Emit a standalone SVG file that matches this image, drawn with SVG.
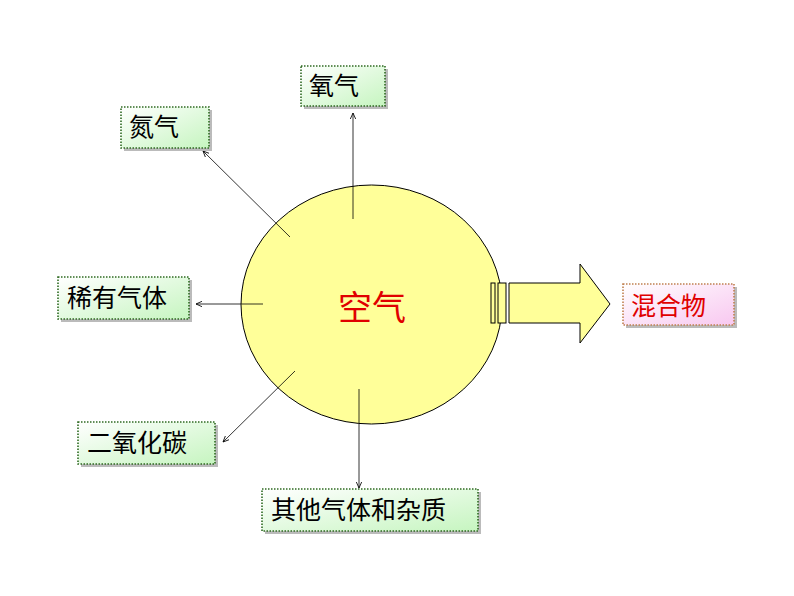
<svg xmlns="http://www.w3.org/2000/svg" width="794" height="596" viewBox="0 0 794 596">
<defs>
<linearGradient id="g" x1="0" y1="0" x2="1" y2="1">
<stop offset="0" stop-color="#FFFFFF"/>
<stop offset="1" stop-color="#C6F5C0"/>
</linearGradient>
<linearGradient id="p" x1="0" y1="0" x2="1" y2="1">
<stop offset="0" stop-color="#FFFFFF"/>
<stop offset="1" stop-color="#F8C8F0"/>
</linearGradient>
<marker id="a" viewBox="0 0 10 10" refX="9" refY="5" markerWidth="7" markerHeight="7" orient="auto" markerUnits="userSpaceOnUse">
<path d="M0,1 L9,5 L0,9" fill="none" stroke="#000" stroke-width="1.2"/>
</marker>
</defs>
<style>
.box{fill:url(#g);stroke:#2F6A22;stroke-width:1.6;stroke-dasharray:1.5 1.5}
.sh{fill:#BBBBBB}
.t{font-family:"Noto Sans CJK SC",sans-serif;font-size:25px;fill:#000}
.c{stroke:#000;stroke-width:0.8;fill:none;marker-end:url(#a)}
</style>
<g id="air">
<ellipse cx="371.5" cy="304.5" rx="130.5" ry="119.5" fill="#FFFF99" stroke="#000" stroke-width="1"/>
<text x="372" y="320" text-anchor="middle" font-family="Noto Sans CJK SC,sans-serif" font-size="34" fill="#E00000">空气</text>
</g>
<g id="connectors">
<line class="c" x1="353" y1="219" x2="353" y2="113"/>
<line class="c" x1="290" y1="237" x2="203" y2="151"/>
<line class="c" x1="263" y1="304" x2="196" y2="304"/>
<line class="c" x1="295" y1="371" x2="223" y2="442"/>
<line class="c" x1="359" y1="389" x2="359" y2="488"/>
</g>
<g id="bigarrow" stroke="#000" stroke-width="1" fill="#FFFF99">
<rect x="491" y="283" width="4" height="40"/>
<rect x="498" y="283" width="8" height="40"/>
<path d="M509,283 L580,283 L580,264 L610,304 L580,343 L580,323 L509,323 Z"/>
</g>
<g id="oxygen">
<rect class="sh" x="304" y="69" width="84" height="40"/>
<rect class="box" x="301" y="66" width="84" height="40"/>
<text class="t" x="309" y="95">氧气</text>
</g>
<g id="nitrogen">
<rect class="sh" x="124" y="110" width="88" height="41"/>
<rect class="box" x="121" y="107" width="88" height="41"/>
<text class="t" x="129" y="136">氮气</text>
</g>
<g id="rare">
<rect class="sh" x="61" y="280" width="131" height="42"/>
<rect class="box" x="58" y="277" width="131" height="42"/>
<text class="t" x="67" y="307">稀有气体</text>
</g>
<g id="co2">
<rect class="sh" x="81" y="425" width="137" height="42"/>
<rect class="box" x="78" y="422" width="137" height="42"/>
<text class="t" x="87" y="452">二氧化碳</text>
</g>
<g id="others">
<rect class="sh" x="265" y="492" width="216" height="42"/>
<rect class="box" x="262" y="489" width="216" height="42"/>
<text class="t" x="271" y="519">其他气体和杂质</text>
</g>
<g id="mixture">
<rect class="sh" x="626" y="287" width="111" height="41"/>
<rect x="623" y="284" width="111" height="41" fill="url(#p)" stroke="#C08050" stroke-width="1.6" stroke-dasharray="1.5 1.5"/>
<text x="631" y="315" font-family="Noto Sans CJK SC,sans-serif" font-size="25" fill="#E00000">混合物</text>
</g>
</svg>
